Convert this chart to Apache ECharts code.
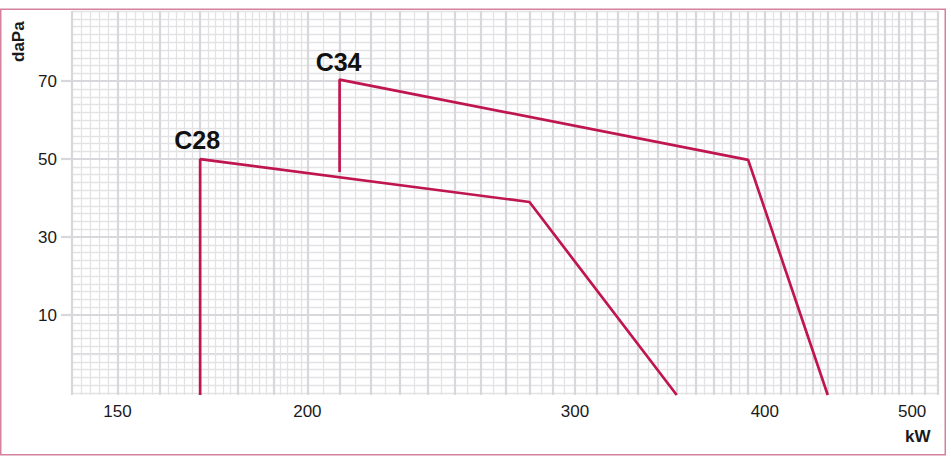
<!DOCTYPE html>
<html>
<head>
<meta charset="utf-8">
<script src="https://cdn.jsdelivr.net/npm/echarts@6/dist/echarts.min.js"></script>
<style>
  html, body { margin: 0; padding: 0; background: #ffffff; }
  #chart { width: 951px; height: 457px; }
</style>
</head>
<body>
<div id="chart"></div>
<script>
// ---- data ----
const c28Power = [170, 170, 280, 350];          // kW
const c28Pressure = [-10.5, 50, 39, -10.5];     // daPa
const c34Power = [210, 210, 390, 440];          // kW
const c34Pressure = [46.7, 70.4, 49.8, -10.5];  // daPa
const seriesNames = ['C28', 'C34'];
const xTickLabels = [150, 200, 300, 400, 500];
const yTickLabels = [10, 30, 50, 70];

// ---- axis ranges ----
const X_MIN = 140, X_MAX = 520;
const Y_MIN = -10.5, Y_MAX = 88;

// ---- grid lines of the printed log paper ----
const vMajor = [], vMinor = [];
for (let v = 140; v <= 520; v += 2) {
  if (v % 10 === 0) vMajor.push(v);
  else if (v < 200) vMinor.push(v);
}
for (let v = 205; v < 500; v += 10) vMinor.push(v);
const hMajor = yTickLabels.slice();
const hMinor = [];
for (let v = -10; v <= 88; v += 2) if (hMajor.indexOf(v) < 0) hMinor.push(v);

const MAJOR_COLOR = '#d8d8dc';
const MINOR_COLOR = '#e3e3e5';
const LINE_COLOR = '#bf1650';
const FONT = "'Liberation Sans', Arial, Helvetica, sans-serif";

function gridSeries(name, xs, ys, color, width) {
  const data = xs.map(v => ({ xAxis: v })).concat(ys.map(v => ({ yAxis: v })));
  return {
    name: name, type: 'line', data: [], z: 1, silent: true,
    markLine: {
      silent: true, symbol: 'none', animation: false,
      label: { show: false },
      lineStyle: { type: 'solid', color: color, width: width },
      emphasis: { disabled: true },
      data: data
    }
  };
}

function curve(name, xs, ys, labelOffset, labelDist) {
  return {
    name: name, type: 'line', z: 5,
    data: xs.map((x, i) => [x, ys[i]]),
    showSymbol: false, symbol: 'none',
    lineStyle: { color: LINE_COLOR, width: 2.7 },
    itemStyle: { color: LINE_COLOR },
    clip: true,
    markPoint: {
      silent: true, animation: false,
      symbol: 'circle', symbolSize: 0,
      label: {
        show: true, position: 'top', formatter: name,
        distance: labelDist, offset: labelOffset,
        color: '#111', fontFamily: FONT, fontWeight: 'bold', fontSize: 25
      },
      data: [{ coord: [xs[1], ys[1]] }]
    }
  };
}

const chart = echarts.init(document.getElementById('chart'), null, { renderer: 'svg' });
chart.setOption({
  animation: false,
  backgroundColor: '#ffffff',
  grid: { left: 72, right: 13, top: 11, bottom: 62, containLabel: false },
  xAxis: {
    type: 'log', min: X_MIN, max: X_MAX, logBase: 10,
    axisLine: { show: true, lineStyle: { color: MAJOR_COLOR, width: 2 } },
    axisTick: { show: false },
    splitLine: { show: false },
    minorSplitLine: { show: false },
    axisLabel: {
      customValues: xTickLabels,
      margin: 8, color: '#1a1a1a', fontFamily: FONT, fontSize: 17
    }
  },
  yAxis: {
    type: 'value', min: Y_MIN, max: Y_MAX,
    axisLine: { show: false },
    axisTick: { show: true, customValues: yTickLabels, length: 11, lineStyle: { color: MAJOR_COLOR, width: 2.2 } },
    splitLine: { show: false },
    axisLabel: {
      customValues: yTickLabels,
      margin: 15, color: '#1a1a1a', fontFamily: FONT, fontSize: 17
    }
  },
  graphic: [
    { type: 'rect', z: 100, silent: true,
      shape: { x: 0.75, y: 9.3, width: 944.5, height: 445.5 },
      style: { fill: 'none', stroke: '#d4829e', lineWidth: 1.5 } },
    { type: 'text', z: 100, rotation: Math.PI / 2, x: 10, y: 62,
      style: { text: 'daPa', fill: '#1a1a1a', font: "bold 17px 'Liberation Sans', Arial, sans-serif" } },
    { type: 'text', z: 100, x: 905, y: 428,
      style: { text: 'kW', fill: '#1a1a1a', font: "bold 17px 'Liberation Sans', Arial, sans-serif" } }
  ],
  series: [
    gridSeries('minor', vMinor, hMinor, MINOR_COLOR, 1.3),
    gridSeries('major', vMajor, hMajor, MAJOR_COLOR, 2.2),
    curve(seriesNames[0], c28Power, c28Pressure, [-3, 0], 7),
    curve(seriesNames[1], c34Power, c34Pressure, [-1, 0], 5)
  ]
});
</script>
</body>
</html>
